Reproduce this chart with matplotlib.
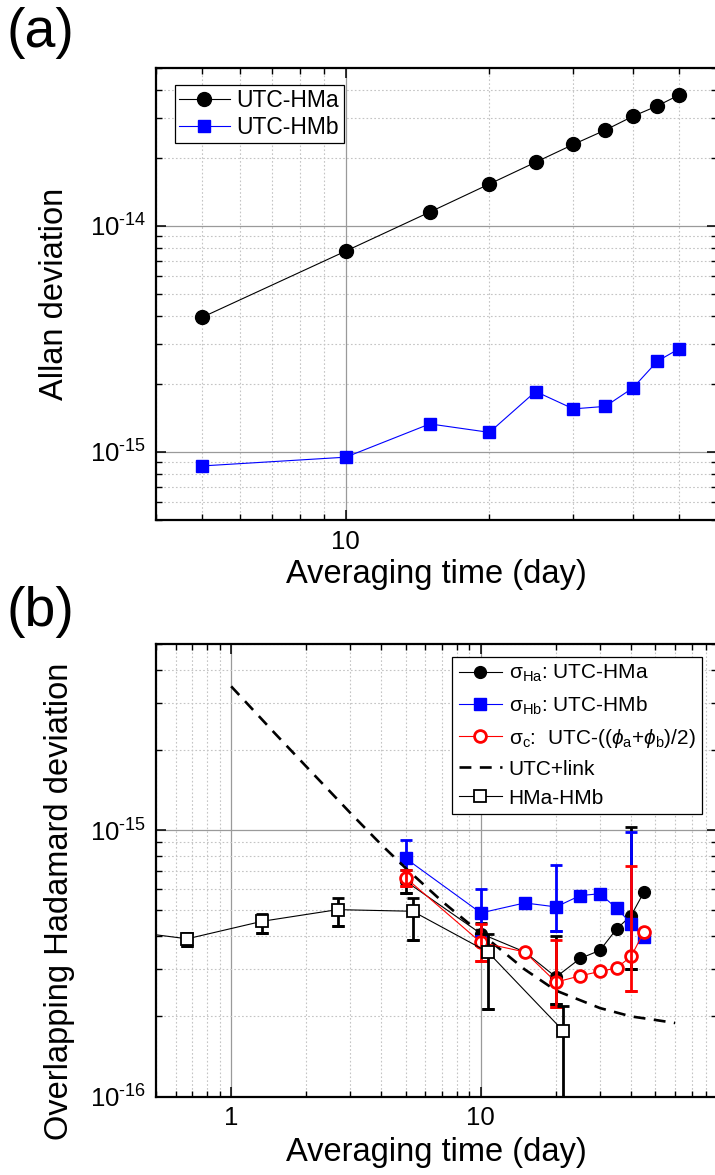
import matplotlib
matplotlib.use('Agg')
import matplotlib.pyplot as plt
import matplotlib.ticker as mticker
import numpy as np

plt.rcParams['font.family'] = ['Liberation Sans', 'DejaVu Sans']
plt.rcParams['mathtext.fontset'] = 'custom'
plt.rcParams['mathtext.rm'] = 'Liberation Sans'
plt.rcParams['mathtext.it'] = 'Liberation Sans:italic'
plt.rcParams['mathtext.bf'] = 'Liberation Sans:bold'
plt.rcParams['axes.unicode_minus'] = False

# ---- (a) Allan deviation ----
tau_a = [5, 10, 15, 20, 25, 30, 35, 40, 45, 50]
adev_hma = [3.94e-15, 7.73e-15, 1.15e-14, 1.53e-14, 1.91e-14, 2.29e-14, 2.65e-14, 3.05e-14, 3.39e-14, 3.79e-14]
adev_hmb = [8.67e-16, 9.48e-16, 1.33e-15, 1.22e-15, 1.85e-15, 1.55e-15, 1.59e-15, 1.92e-15, 2.52e-15, 2.86e-15]

# ---- (b) Overlapping Hadamard deviation ----
tau_b = [5, 10, 15, 20, 25, 30, 35, 40, 45]
hdev_ha = [6.43e-16, 4.09e-16, 3.49e-16, 2.81e-16, 3.30e-16, 3.54e-16, 4.26e-16, 4.78e-16, 5.85e-16]
hdev_hb = [7.83e-16, 4.89e-16, 5.33e-16, 5.15e-16, 5.68e-16, 5.77e-16, 5.09e-16, 4.46e-16, 3.96e-16]
hdev_c = [6.62e-16, 3.79e-16, 3.49e-16, 2.69e-16, 2.84e-16, 2.95e-16, 3.04e-16, 3.36e-16, 4.15e-16]

err_tau = [5, 10, 20, 40]
ha_lo = [5.80e-16, 3.70e-16, 2.23e-16, 3.00e-16]
ha_hi = [7.10e-16, 4.50e-16, 3.99e-16, 1.03e-15]
hb_lo = [6.70e-16, 3.99e-16, 4.17e-16, 3.31e-16]
hb_hi = [9.15e-16, 6.03e-16, 7.38e-16, 9.83e-16]
c_lo = [6.16e-16, 3.22e-16, 2.17e-16, 2.50e-16]
c_hi = [7.10e-16, 4.45e-16, 3.86e-16, 7.32e-16]

tau_link = [1, 1.5, 2, 3, 4, 5, 7, 10, 15, 20, 30, 40, 50, 60]
hdev_link = [3.46e-15, 2.30e-15, 1.73e-15, 1.16e-15, 8.8e-16, 7.2e-16, 5.4e-16, 4.1e-16,
             3.0e-16, 2.5e-16, 2.15e-16, 2.0e-16, 1.94e-16, 1.89e-16]

tau_ab = [0.333, 0.667, 1.333, 2.667, 5.333, 10.667, 21.333]
hdev_ab = [4.25e-16, 3.91e-16, 4.55e-16, 5.03e-16, 4.96e-16, 3.49e-16, 1.77e-16]
ab_lo = [np.nan, 3.69e-16, 4.11e-16, 4.36e-16, 3.86e-16, 2.14e-16, 5.0e-17]
ab_hi = [np.nan, 4.11e-16, 4.86e-16, 5.54e-16, 5.57e-16, 4.09e-16, 2.18e-16]

W, H = 715, 1175
fig = plt.figure(figsize=(W / 100, H / 100), dpi=100)


def sci_label(v, p):
    e = int(round(np.log10(v)))
    return r'$\mathdefault{10^{\text{%d}}}$' % e


def style_axes(ax, xticks, yticks):
    ax.set_xscale('log')
    ax.set_yscale('log')
    for s in ax.spines.values():
        s.set_linewidth(1.6)
    ax.tick_params(which='both', direction='in', top=True, right=True)
    ax.tick_params(which='major', length=7, width=1.1, labelsize=18.5, pad=7)
    ax.tick_params(which='minor', length=4.5, width=1.0)
    ax.xaxis.set_major_locator(mticker.FixedLocator(xticks))
    ax.yaxis.set_major_locator(mticker.FixedLocator(yticks))
    ax.xaxis.set_major_formatter(mticker.FuncFormatter(lambda v, p: f'{v:g}'))
    ax.yaxis.set_major_formatter(mticker.FuncFormatter(sci_label))
    ax.xaxis.set_minor_formatter(mticker.NullFormatter())
    ax.yaxis.set_minor_formatter(mticker.NullFormatter())
    ax.yaxis.set_minor_locator(mticker.LogLocator(base=10, subs=np.arange(2, 10), numticks=20))
    ax.xaxis.set_minor_locator(mticker.LogLocator(base=10, subs=np.arange(2, 10), numticks=20))
    ax.grid(which='major', color='#9a9a9a', linestyle='-', linewidth=0.9)
    ax.grid(which='minor', color='#c4c4c4', linestyle=(0, (1.5, 2)), linewidth=0.8)
    ax.set_axisbelow(True)


# panel (a)
ax1 = fig.add_axes([156 / W, 1 - 520 / H, 561 / W, 452.3 / H])
style_axes(ax1, [10], [1e-15, 1e-14])
ax1.plot(tau_a, adev_hma, '-o', color='black', lw=0.8, ms=10, label='UTC-HMa', zorder=3)
ax1.plot(tau_a, adev_hmb, '-s', color='#0000ff', lw=0.8, ms=9, label='UTC-HMb', zorder=3)
ax1.set_xlim(4, 60)
ax1.set_ylim(5e-16, 5e-14)
leg1 = ax1.legend(loc='upper left', bbox_to_anchor=(0.0333, 0.9624), borderaxespad=0,
                  fontsize=16.5, frameon=True, fancybox=False, framealpha=1,
                  edgecolor='black', handlelength=2.2, handletextpad=0.3,
                  labelspacing=0.15, borderpad=0.2)
leg1.get_frame().set_linewidth(0.9)

fig.text(55 / W, 1 - 294 / H, 'Allan deviation', rotation=90, ha='center', va='center', fontsize=23.5)
fig.text(436 / W, 1 - 574 / H, 'Averaging time (day)', ha='center', va='center', fontsize=23.5)
fig.text(7 / W, 1 - 33 / H, '(a)', ha='left', va='center', fontsize=40)

# panel (b)
ax2 = fig.add_axes([156 / W, 1 - 1096.7 / H, 561 / W, 453 / H])
style_axes(ax2, [1, 10], [1e-16, 1e-15])
ax2.plot(tau_b, hdev_ha, '-o', color='black', lw=0.8, ms=8.5,
         label=r'$\mathrm{\sigma_{Ha}}$: UTC-HMa', zorder=3)
ax2.errorbar(err_tau, ha_hi, yerr=[np.subtract(ha_hi, ha_lo), np.zeros(4)], fmt='none',
             ecolor='black', elinewidth=2, capsize=4, capthick=2, zorder=3)
ax2.errorbar(err_tau, ha_lo, yerr=[np.zeros(4), np.zeros(4)], fmt='none',
             ecolor='black', elinewidth=2, capsize=4, capthick=2, zorder=3)

ax2.plot(tau_b, hdev_hb, '-s', color='#0000ff', lw=0.8, ms=8,
         label=r'$\mathrm{\sigma_{Hb}}$: UTC-HMb', zorder=4)
ax2.errorbar(err_tau, hb_hi, yerr=[np.subtract(hb_hi, hb_lo), np.zeros(4)], fmt='none',
             ecolor='#0000ff', elinewidth=2, capsize=4, capthick=2, zorder=4)
ax2.errorbar(err_tau, hb_lo, yerr=[np.zeros(4), np.zeros(4)], fmt='none',
             ecolor='#0000ff', elinewidth=2, capsize=4, capthick=2, zorder=4)

ax2.plot(tau_b, hdev_c, '-o', color='#ff0000', lw=0.8, ms=8.5, mfc='white', mew=2,
         label=r'$\mathrm{\sigma_c}$:  UTC-(($\phi_\mathrm{a}$+$\phi_\mathrm{b}$)/2)', zorder=5)
ax2.errorbar(err_tau, c_hi, yerr=[np.subtract(c_hi, c_lo), np.zeros(4)], fmt='none',
             ecolor='#ff0000', elinewidth=2, capsize=4, capthick=2, zorder=5)
ax2.errorbar(err_tau, c_lo, yerr=[np.zeros(4), np.zeros(4)], fmt='none',
             ecolor='#ff0000', elinewidth=2, capsize=4, capthick=2, zorder=5)

ax2.plot(tau_link, hdev_link, color='black', lw=1.9, linestyle=(0, (4.5, 3.2)),
         label='UTC+link', zorder=4.5)

ab_hi_arr = np.array(ab_hi)
ab_lo_arr = np.array(ab_lo)
ok = ~np.isnan(ab_hi_arr)
tau_ab_arr = np.array(tau_ab)
ax2.errorbar(tau_ab_arr[ok], ab_hi_arr[ok],
             yerr=[ab_hi_arr[ok] - ab_lo_arr[ok], np.zeros(ok.sum())], fmt='none',
             ecolor='black', elinewidth=2, capsize=4, capthick=2, zorder=6)
ax2.errorbar(tau_ab_arr[ok], ab_lo_arr[ok], yerr=[np.zeros(ok.sum()), np.zeros(ok.sum())],
             fmt='none', ecolor='black', elinewidth=2, capsize=4, capthick=2, zorder=6)
ax2.plot(tau_ab, hdev_ab, '-s', color='black', lw=0.8, ms=8, mfc='white', mew=1.3,
         label='HMa-HMb', zorder=7)

ax2.set_xlim(0.5, 88.3)
ax2.set_ylim(1e-16, 5e-15)
leg2 = ax2.legend(loc='upper right', bbox_to_anchor=(0.9727, 0.9713), borderaxespad=0,
                  fontsize=15, frameon=True, fancybox=False, framealpha=1,
                  edgecolor='black', handlelength=2.1, handletextpad=0.3,
                  labelspacing=0.48, borderpad=0.3)
leg2.get_frame().set_linewidth(0.9)
leg2.set_zorder(10)

fig.text(60 / W, 1 - 901 / H, 'Overlapping Hadamard deviation', rotation=90,
         ha='center', va='center', fontsize=23.5)
fig.text(436 / W, 1 - 1153 / H, 'Averaging time (day)', ha='center', va='center', fontsize=23.5)
fig.text(7 / W, 1 - 612 / H, '(b)', ha='left', va='center', fontsize=40)

fig.savefig('out.png', dpi=100)
